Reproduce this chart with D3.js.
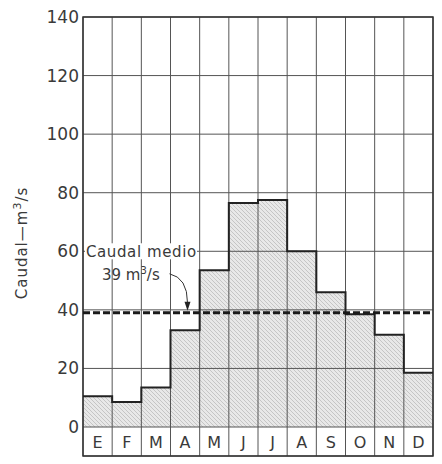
<!DOCTYPE html>
<html>
<head>
<meta charset="utf-8">
<script src="https://cdn.jsdelivr.net/npm/d3@7"></script>
<style>
  body { margin: 0; background: #fff; }
  text { font-family: "DejaVu Sans", sans-serif; fill: #3a3a3a; }
</style>
</head>
<body>
<div id="chart"></div>
<script>
// monthly flow, m3/s
const months = ['E', 'F', 'M', 'A', 'M', 'J', 'J', 'A', 'S', 'O', 'N', 'D'];
const flows = [10.5, 8.5, 13.5, 33, 53.5, 76.5, 77.5, 60, 46, 38.5, 31.5, 18.5];
const yTicks = [0, 20, 40, 60, 80, 100, 120, 140];
const meanFlow = 39;

const width = 442;
const height = 464;
const margin = { top: 17, right: 9, bottom: 37, left: 83 };
const labelBand = 29;

const data = months.map((m, i) => ({ key: i, month: m, flow: flows[i] }));

const svg = d3
  .select('#chart')
  .append('svg')
  .attr('width', width)
  .attr('height', height);

const x = d3
  .scaleBand()
  .domain(data.map((d) => d.key))
  .range([margin.left, width - margin.right])
  .padding(0);

const y = d3
  .scaleLinear()
  .domain([0, 140])
  .range([height - margin.bottom, margin.top]);

// hatch
const defs = svg.append('defs');
const pat = defs
  .append('pattern')
  .attr('id', 'hatch')
  .attr('patternUnits', 'userSpaceOnUse')
  .attr('width', 4)
  .attr('height', 4);
pat.append('rect').attr('width', 4).attr('height', 4).attr('fill', '#e8e8e8');
pat
  .append('path')
  .attr('d', 'M-1,-1 L5,5 M-1,3 L1,5 M3,-1 L5,1')
  .attr('stroke', '#adadad')
  .attr('stroke-width', 0.6);

// step area
const pts = data.map((d) => [x(d.key), y(d.flow)]);
pts.push([x.range()[1], y(flows[flows.length - 1])]);

svg
  .append('path')
  .attr('d', d3.area().x((d) => d[0]).y0(y(0)).y1((d) => d[1]).curve(d3.curveStepAfter)(pts))
  .attr('fill', 'url(#hatch)');

// grid
const grid = svg.append('g').attr('stroke', '#555').attr('stroke-width', 1);
grid
  .selectAll('line.h')
  .data(yTicks)
  .enter()
  .append('line')
  .attr('x1', margin.left)
  .attr('x2', width - margin.right)
  .attr('y1', (d) => y(d))
  .attr('y2', (d) => y(d));

const bounds = data.map((d) => x(d.key)).concat([x.range()[1]]);
grid
  .selectAll('line.v')
  .data(bounds)
  .enter()
  .append('line')
  .attr('x1', (d) => d)
  .attr('x2', (d) => d)
  .attr('y1', margin.top)
  .attr('y2', y(0) + labelBand);

grid
  .append('line')
  .attr('x1', margin.left)
  .attr('x2', width - margin.right)
  .attr('y1', y(0) + labelBand)
  .attr('y2', y(0) + labelBand);

// frame
svg
  .append('rect')
  .attr('x', margin.left)
  .attr('y', margin.top)
  .attr('width', x.range()[1] - margin.left)
  .attr('height', y(0) + labelBand - margin.top)
  .attr('fill', 'none')
  .attr('stroke', '#333')
  .attr('stroke-width', 1.5);

// step outline
svg
  .append('path')
  .attr('d', d3.line().curve(d3.curveStepAfter)(pts))
  .attr('fill', 'none')
  .attr('stroke', '#222')
  .attr('stroke-width', 2);

// mean line
svg
  .append('line')
  .attr('x1', margin.left)
  .attr('x2', x.range()[1])
  .attr('y1', y(meanFlow))
  .attr('y2', y(meanFlow))
  .attr('stroke', '#1a1a1a')
  .attr('stroke-width', 3)
  .attr('stroke-dasharray', '7,3');

// y tick labels
svg
  .selectAll('text.tick')
  .data(yTicks)
  .enter()
  .append('text')
  .attr('x', margin.left - 4)
  .attr('y', (d) => y(d))
  .attr('dy', '0.35em')
  .attr('text-anchor', 'end')
  .style('font-size', '17px')
  .text((d) => d);

// month labels
svg
  .selectAll('text.month')
  .data(data)
  .enter()
  .append('text')
  .attr('x', (d) => x(d.key) + x.bandwidth() / 2)
  .attr('y', y(0) + labelBand / 2 + 1)
  .attr('dy', '0.35em')
  .attr('text-anchor', 'middle')
  .style('font-size', '16px')
  .text((d) => d.month);

// y axis title
const yt = svg
  .append('text')
  .attr('transform', `translate(27,${(margin.top + y(0)) / 2 + 21}) rotate(-90)`)
  .attr('text-anchor', 'middle')
  .style('font-size', '15px')
  .style('letter-spacing', '1px');
yt.append('tspan').text('Caudal\u2014m');
yt.append('tspan').attr('dy', -6).style('font-size', '11px').text('3');
yt.append('tspan').attr('dy', 6).text('/s');

// annotation
const ann = svg.append('g');
ann
  .append('rect')
  .attr('x', margin.left + 2)
  .attr('y', y(60) - 8)
  .attr('width', 112)
  .attr('height', 16)
  .attr('fill', '#fff');
ann
  .append('text')
  .attr('x', margin.left + 3)
  .attr('y', y(60) + 6)
  .style('font-size', '15px')
  .style('letter-spacing', '0.6px')
  .text('Caudal medio');
const t2 = ann
  .append('text')
  .attr('x', margin.left + 19)
  .attr('y', y(meanFlow) - 33)
  .style('font-size', '15px');
t2.append('tspan').text('39 m');
t2.append('tspan').attr('dy', -6).style('font-size', '10px').text('3');
t2.append('tspan').attr('dy', 6).text('/s');

const ax = x(3) + 17;
const ay = y(meanFlow) - 2;
ann
  .append('path')
  .attr('d', `M${ax - 18},${ay - 37} Q${ax},${ay - 33} ${ax},${ay - 8}`)
  .attr('fill', 'none')
  .attr('stroke', '#333')
  .attr('stroke-width', 1);
ann
  .append('path')
  .attr('d', `M${ax - 3},${ay - 9} L${ax + 3},${ay - 9} L${ax},${ay} Z`)
  .attr('fill', '#222');
</script>
</body>
</html>
